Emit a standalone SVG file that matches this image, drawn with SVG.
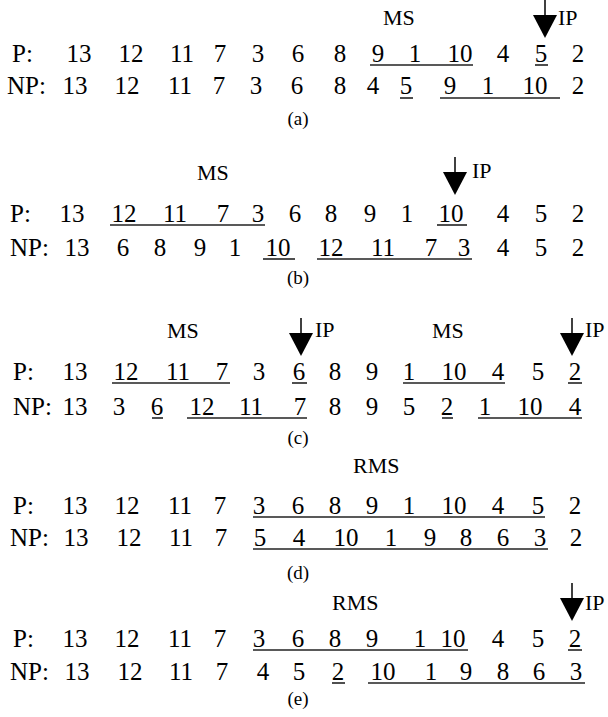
<svg xmlns="http://www.w3.org/2000/svg" width="608" height="717" viewBox="0 0 608 717">
<style>
.r{font-family:"Liberation Serif","Times New Roman",serif;font-size:25px;fill:#000;text-anchor:middle}
.h{font-family:"Liberation Serif","Times New Roman",serif;font-size:25px;fill:#000}
.l{font-family:"Liberation Serif","Times New Roman",serif;font-size:22px;fill:#000}
.c{font-family:"Liberation Serif","Times New Roman",serif;font-size:19px;fill:#000;text-anchor:middle}
.u{stroke:#222;stroke-width:1.6;fill:none}
.a{stroke:#000;stroke-width:1.5}
</style>
<defs>
<g id="arrow"><line class="a" x1="0" y1="0" x2="0" y2="15"/><polygon points="-12,15 12,15 0,38" fill="#000"/></g>
</defs>
<rect width="608" height="717" fill="#fff"/>

<g id="sec-a">
<text class="l" x="383" y="25">MS</text>
<use href="#arrow" x="545" y="0"/>
<text class="l" x="558" y="25">IP</text>
<text class="h" x="12" y="62">P:</text>
<g class="r">
<text x="79" y="62">13</text><text x="131" y="62">12</text><text x="182" y="62">11</text><text x="220" y="62">7</text><text x="258" y="62">3</text><text x="298" y="62">6</text><text x="340" y="62">8</text><text x="378" y="62">9</text><text x="415" y="62">1</text><text x="460" y="62">10</text><text x="503" y="62">4</text><text x="541" y="62">5</text><text x="578" y="62">2</text>
</g>
<text class="h" x="7" y="94">NP:</text>
<g class="r">
<text x="75" y="94">13</text><text x="127" y="94">12</text><text x="180" y="94">11</text><text x="219" y="94">7</text><text x="256" y="94">3</text><text x="297" y="94">6</text><text x="340" y="94">8</text><text x="373" y="94">4</text><text x="406" y="94">5</text><text x="450" y="94">9</text><text x="488" y="94">1</text><text x="535" y="94">10</text><text x="578" y="94">2</text>
</g>
<text class="c" x="298" y="125">(a)</text>
</g>

<g id="sec-b">
<text class="l" x="197" y="180">MS</text>
<use href="#arrow" x="455" y="157"/>
<text class="l" x="472" y="178">IP</text>
<text class="h" x="10" y="222">P:</text>
<g class="r">
<text x="72" y="222">13</text><text x="124" y="222">12</text><text x="175" y="222">11</text><text x="223" y="222">7</text><text x="258" y="222">3</text><text x="295" y="222">6</text><text x="331" y="222">8</text><text x="370" y="222">9</text><text x="407" y="222">1</text><text x="451" y="222">10</text><text x="503" y="222">4</text><text x="541" y="222">5</text><text x="578" y="222">2</text>
</g>
<text class="h" x="10" y="256">NP:</text>
<g class="r">
<text x="77" y="256">13</text><text x="123" y="256">6</text><text x="160" y="256">8</text><text x="200" y="256">9</text><text x="235" y="256">1</text><text x="278" y="256">10</text><text x="331" y="256">12</text><text x="383" y="256">11</text><text x="431" y="256">7</text><text x="464" y="256">3</text><text x="503" y="256">4</text><text x="541" y="256">5</text><text x="578" y="256">2</text>
</g>
<text class="c" x="298" y="284">(b)</text>
</g>

<g id="sec-c">
<text class="l" x="167" y="338">MS</text>
<use href="#arrow" x="301" y="318"/>
<text class="l" x="315" y="337">IP</text>
<text class="l" x="432" y="338">MS</text>
<use href="#arrow" x="572" y="318"/>
<text class="l" x="585" y="337">IP</text>
<text class="h" x="13" y="380">P:</text>
<g class="r">
<text x="75" y="380">13</text><text x="126" y="380">12</text><text x="178" y="380">11</text><text x="222" y="380">7</text><text x="259" y="380">3</text><text x="299" y="380">6</text><text x="335" y="380">8</text><text x="372" y="380">9</text><text x="409" y="380">1</text><text x="454" y="380">10</text><text x="498" y="380">4</text><text x="538" y="380">5</text><text x="575" y="380">2</text>
</g>
<text class="h" x="13" y="415">NP:</text>
<g class="r">
<text x="75" y="415">13</text><text x="119" y="415">3</text><text x="157" y="415">6</text><text x="202" y="415">12</text><text x="251" y="415">11</text><text x="300" y="415">7</text><text x="335" y="415">8</text><text x="372" y="415">9</text><text x="409" y="415">5</text><text x="447" y="415">2</text><text x="485" y="415">1</text><text x="530" y="415">10</text><text x="575" y="415">4</text>
</g>
<text class="c" x="298" y="444">(c)</text>
</g>

<g id="sec-d">
<text class="l" x="353" y="473">RMS</text>
<text class="h" x="13" y="514">P:</text>
<g class="r">
<text x="75" y="514">13</text><text x="127" y="514">12</text><text x="180" y="514">11</text><text x="220" y="514">7</text><text x="259" y="514">3</text><text x="298" y="514">6</text><text x="335" y="514">8</text><text x="372" y="514">9</text><text x="409" y="514">1</text><text x="454" y="514">10</text><text x="498" y="514">4</text><text x="538" y="514">5</text><text x="575" y="514">2</text>
</g>
<text class="h" x="10" y="546">NP:</text>
<g class="r">
<text x="76" y="546">13</text><text x="129" y="546">12</text><text x="181" y="546">11</text><text x="221" y="546">7</text><text x="260" y="546">5</text><text x="299" y="546">4</text><text x="346" y="546">10</text><text x="391" y="546">1</text><text x="430" y="546">9</text><text x="466" y="546">8</text><text x="503" y="546">6</text><text x="540" y="546">3</text><text x="576" y="546">2</text>
</g>
<text class="c" x="298" y="579">(d)</text>
</g>

<g id="sec-e">
<text class="l" x="332" y="610">RMS</text>
<use href="#arrow" x="572" y="583"/>
<text class="l" x="585" y="610">IP</text>
<text class="h" x="13" y="647">P:</text>
<g class="r">
<text x="75" y="647">13</text><text x="127" y="647">12</text><text x="180" y="647">11</text><text x="220" y="647">7</text><text x="259" y="647">3</text><text x="298" y="647">6</text><text x="335" y="647">8</text><text x="372" y="647">9</text><text x="420" y="647">1</text><text x="453" y="647">10</text><text x="498" y="647">4</text><text x="538" y="647">5</text><text x="575" y="647">2</text>
</g>
<text class="h" x="10" y="680">NP:</text>
<g class="r">
<text x="77" y="680">13</text><text x="130" y="680">12</text><text x="181" y="680">11</text><text x="222" y="680">7</text><text x="263" y="680">4</text><text x="299" y="680">5</text><text x="338" y="680">2</text><text x="383" y="680">10</text><text x="431" y="680">1</text><text x="466" y="680">9</text><text x="503" y="680">8</text><text x="539" y="680">6</text><text x="576" y="680">3</text>
</g>
<text class="c" x="298" y="705">(e)</text>
</g>

<g id="underlines">
<line class="u" x1="370" y1="65" x2="473" y2="65"/>
<line class="u" x1="535" y1="65" x2="548" y2="65"/>
<line class="u" x1="400" y1="98" x2="413" y2="98"/>
<line class="u" x1="440" y1="98" x2="560" y2="98"/>
<line class="u" x1="110" y1="225" x2="265" y2="225"/>
<line class="u" x1="437" y1="225" x2="467" y2="225"/>
<line class="u" x1="263" y1="259" x2="295" y2="259"/>
<line class="u" x1="317" y1="259" x2="472" y2="259"/>
<line class="u" x1="112" y1="383" x2="230" y2="383"/>
<line class="u" x1="292" y1="383" x2="307" y2="383"/>
<line class="u" x1="403" y1="383" x2="505" y2="383"/>
<line class="u" x1="568" y1="383" x2="582" y2="383"/>
<line class="u" x1="152" y1="418" x2="163" y2="418"/>
<line class="u" x1="187" y1="418" x2="307" y2="418"/>
<line class="u" x1="442" y1="418" x2="453" y2="418"/>
<line class="u" x1="478" y1="418" x2="582" y2="418"/>
<line class="u" x1="253" y1="517" x2="545" y2="517"/>
<line class="u" x1="253" y1="549" x2="548" y2="549"/>
<line class="u" x1="253" y1="650" x2="468" y2="650"/>
<line class="u" x1="568" y1="650" x2="582" y2="650"/>
<line class="u" x1="332" y1="683" x2="345" y2="683"/>
<line class="u" x1="368" y1="683" x2="585" y2="683"/>
</g>
</svg>
